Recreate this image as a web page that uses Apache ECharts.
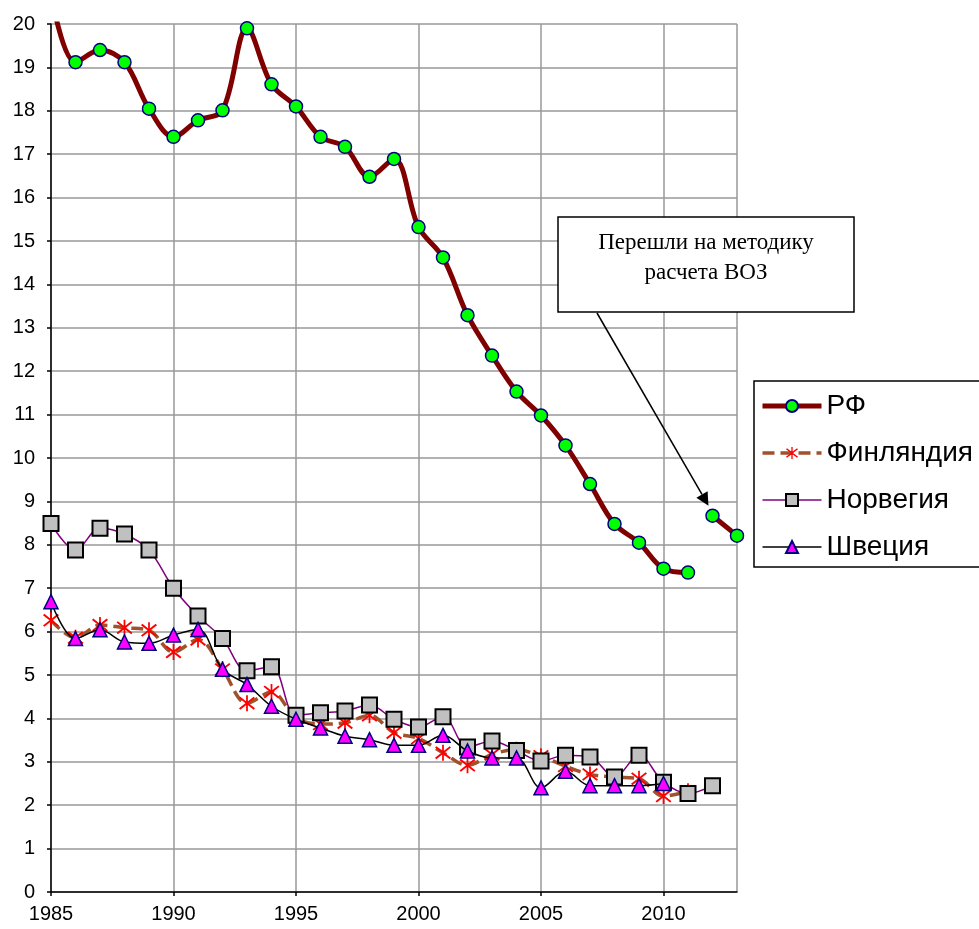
<!DOCTYPE html>
<html>
<head>
<meta charset="utf-8">
<script src="https://cdn.jsdelivr.net/npm/echarts@6/dist/echarts.min.js"></script>
<style>
html,body{margin:0;padding:0;background:#fff;}
#chart{width:979px;height:929px;}
</style>
</head>
<body>
<div id="chart"></div>
<script>
const years = [1985,1986,1987,1988,1989,1990,1991,1992,1993,1994,1995,1996,1997,1998,1999,2000,2001,2002,2003,2004,2005,2006,2007,2008,2009,2010,2011,2012,2013];
const rf = [20.7,19.12,19.4,19.12,18.05,17.4,17.78,18.01,19.9,18.61,18.1,17.4,17.17,16.48,16.89,15.32,14.62,13.29,12.36,11.53,10.98,10.29,9.4,8.48,8.05,7.45,7.36,8.67,8.21];
const finland = [6.26,5.86,6.15,6.09,6.03,5.53,5.82,5.13,4.35,4.61,4.01,3.87,3.9,4.07,3.67,3.54,3.21,2.92,3.17,3.28,3.13,2.9,2.71,2.65,2.61,2.21,2.32,null,null];
const norway = [8.49,7.88,8.38,8.25,7.88,7.0,6.36,5.84,5.1,5.19,4.07,4.13,4.17,4.31,3.98,3.8,4.04,3.34,3.48,3.26,3.02,3.15,3.11,2.65,3.15,2.53,2.27,2.45,null];
const sweden = [6.69,5.84,6.04,5.76,5.73,5.92,6.05,5.13,4.78,4.28,3.98,3.78,3.59,3.51,3.38,3.38,3.61,3.25,3.09,3.09,2.4,2.78,2.45,2.45,2.45,2.5,null,null,null];
const seriesNames = ['РФ','Финляндия','Норвегия','Швеция'];
const methodChangeYear = 2012;
const noteLines = ['Перешли на методику','расчета ВОЗ'];

function pairs(arr, from, to){
  const out = [];
  years.forEach((y,i)=>{ if(y>=from && y<=to && arr[i]!=null) out.push([y,arr[i]]); });
  return out;
}

const asterisk = 'path://M9,0 L11,0 L11,20 L9,20 Z M0.9,3.6 L2.4,1.9 L19.1,16.4 L17.6,18.1 Z M17.6,1.9 L19.1,3.6 L2.4,18.1 L0.9,16.4 Z';

const rfStyle = {
  type:'line', name: seriesNames[0], smooth:0.35, symbol:'circle', symbolSize:13,
  lineStyle:{color:'#800000', width:5},
  itemStyle:{color:'#00ff00', borderColor:'#000080', borderWidth:1.5},
  z:5
};

const chart = echarts.init(document.getElementById('chart'), null, {renderer:'canvas'});
const option = {
  animation:false,
  backgroundColor:'#fff',
  grid:{left:51, right:242, top:24, bottom:37, containLabel:false},
  xAxis:{
    type:'value', min:1985, max:2013, interval:5,
    axisLine:{show:true, onZero:false, lineStyle:{color:'#000', width:1.5}},
    axisTick:{show:true, length:4, lineStyle:{color:'#000', width:1.5}},
    axisLabel:{color:'#000', fontSize:20, fontFamily:'Liberation Sans', margin:12, showMaxLabel:false,
      formatter:v=>String(v)},
    splitLine:{show:true, lineStyle:{color:'#999', width:1.5}}
  },
  yAxis:{
    type:'value', min:0, max:20, interval:1,
    axisLine:{show:true, lineStyle:{color:'#000', width:1.5}},
    axisTick:{show:true, length:4, lineStyle:{color:'#000', width:1.5}},
    axisLabel:{color:'#000', fontSize:20, fontFamily:'Liberation Sans', margin:16},
    splitLine:{show:true, lineStyle:{color:'#999', width:1.5}}
  },
  legend:{
    orient:'vertical', left:755, top:387, itemWidth:59, itemHeight:15, itemGap:19,
    data: seriesNames,
    lineStyle:{width:'inherit'},
    textStyle:{color:'#000', fontSize:28, fontFamily:'Liberation Sans'}
  },
  series:[
    Object.assign({}, rfStyle, {data: pairs(rf, 1985, methodChangeYear-1), clip:true}),
    Object.assign({}, rfStyle, {data: pairs(rf, methodChangeYear, 2013), clip:true}),
    {type:'line', name:seriesNames[1], smooth:0.35, symbol:asterisk, symbolSize:16,
      data: pairs(finland,1985,2013),
      lineStyle:{color:'#a0522d', width:3.5, type:[12,6]},
      itemStyle:{color:'#ff0000'}, z:2},
    {type:'line', name:seriesNames[2], smooth:0.35, symbol:'rect', symbolSize:15,
      data: pairs(norway,1985,2013),
      lineStyle:{color:'#800080', width:1.5},
      itemStyle:{color:'#c0c0c0', borderColor:'#000', borderWidth:2}, z:3},
    {type:'line', name:seriesNames[3], smooth:0.35, symbol:'triangle', symbolSize:14,
      data: pairs(sweden,1985,2013),
      lineStyle:{color:'#000', width:1.5},
      itemStyle:{color:'#ff00ff', borderColor:'#000080', borderWidth:1.5}, z:4}
  ]
};
chart.setOption(option);

// annotation with arrow pointing at the first point after the method change
const idx = years.indexOf(methodChangeYear);
const tip = chart.convertToPixel({gridIndex:0}, [methodChangeYear, rf[idx]]);
const tx = tip[0]-4, ty = tip[1]-10;
const sx = 597, sy = 313;
const dx = tx-sx, dy = ty-sy, L = Math.sqrt(dx*dx+dy*dy);
const ux = dx/L, uy = dy/L, nx = -uy, ny = ux;
const hl = 13, hw = 6.5;
const bx = tx-ux*hl, by = ty-uy*hl;
chart.setOption({
  graphic:[
    {type:'rect', shape:{x:558, y:217, width:296, height:95},
      style:{fill:'#fff', stroke:'#000', lineWidth:1.5}, z:100},
    {type:'text', x:706, y:243, z:101,
      style:{text:noteLines[0], fill:'#000', font:'23px "Liberation Serif"', align:'center', verticalAlign:'middle'}},
    {type:'text', x:706, y:273, z:101,
      style:{text:noteLines[1], fill:'#000', font:'23px "Liberation Serif"', align:'center', verticalAlign:'middle'}},
    {type:'line', shape:{x1:sx, y1:sy, x2:bx, y2:by}, style:{stroke:'#000', lineWidth:1.5}, z:100},
    {type:'polygon', shape:{points:[[tx,ty],[bx+nx*hw,by+ny*hw],[bx-nx*hw,by-ny*hw]]}, style:{fill:'#000'}, z:100},
    {type:'rect', shape:{x:754, y:381, width:240, height:186},
      style:{fill:'none', stroke:'#000', lineWidth:1.5}, z:100}
  ]
});
</script>
</body>
</html>
